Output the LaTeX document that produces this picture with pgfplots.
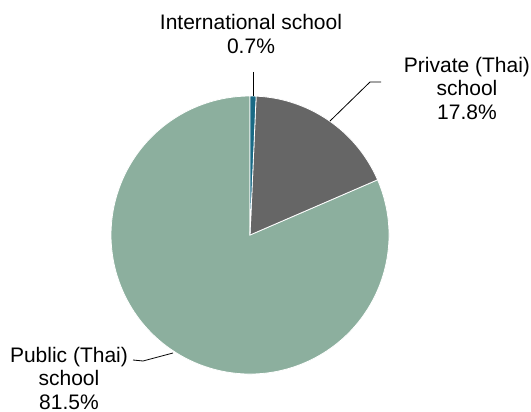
\documentclass[border=0pt]{standalone}
\usepackage{pgfplots}
\pgfplotsset{compat=1.18}
\usepackage{fontspec}
\setmainfont{Liberation Sans}
\definecolor{cInt}{HTML}{1A6A85}
\definecolor{cPriv}{HTML}{666666}
\definecolor{cPub}{HTML}{8CAF9E}
% shares (percent), clockwise from 12 o'clock
\def\vInt{0.7}
\def\vPriv{17.8}
\def\vPub{81.5}
\pgfmathsetmacro{\aA}{90}
\pgfmathsetmacro{\aB}{\aA-3.6*\vInt}
\pgfmathsetmacro{\aC}{\aB-3.6*\vPriv}
\pgfmathsetmacro{\aD}{\aC-3.6*\vPub}
\def\R{139pt}
\begin{document}
\begin{tikzpicture}
\begin{axis}[scale only axis, width=531pt, height=412pt,
  xmin=0, xmax=531, ymin=0, ymax=412, y dir=reverse, hide axis, clip=false]
\fill[cPub, draw=white, line width=0.8pt] (axis cs:250,235) -- ++(\aC:\R) arc[start angle=\aC, end angle=\aD, radius=\R] -- cycle;
\fill[cPriv, draw=white, line width=0.8pt] (axis cs:250,235) -- ++(\aB:\R) arc[start angle=\aB, end angle=\aC, radius=\R] -- cycle;
\fill[cInt, draw=white, line width=0.8pt] (axis cs:250,235) -- ++(\aA:\R) arc[start angle=\aA, end angle=\aB, radius=\R] -- cycle;
% leader lines
\draw[black, line width=0.8pt] (axis cs:253.5,72) -- (axis cs:253.5,96);
\draw[black, line width=0.8pt] (axis cs:330,121) -- (axis cs:370,82) -- (axis cs:381,82);
\draw[black, line width=0.8pt] (axis cs:133,360) -- (axis cs:143,361) -- (axis cs:173,353);
% labels
\node[align=center, inner sep=0pt, font=\fontsize{21}{23.5}\selectfont] at (axis cs:251,34) {International school\\0.7\%};
\node[align=center, inner sep=0pt, font=\fontsize{21}{23.5}\selectfont] at (axis cs:467,88) {Private (Thai)\\school\\17.8\%};
\node[align=center, inner sep=0pt, font=\fontsize{21}{23.5}\selectfont] at (axis cs:69,378) {Public (Thai)\\school\\81.5\%};
\end{axis}
\path[use as bounding box] (0,0) rectangle (531pt,412pt);
\end{tikzpicture}
\end{document}
